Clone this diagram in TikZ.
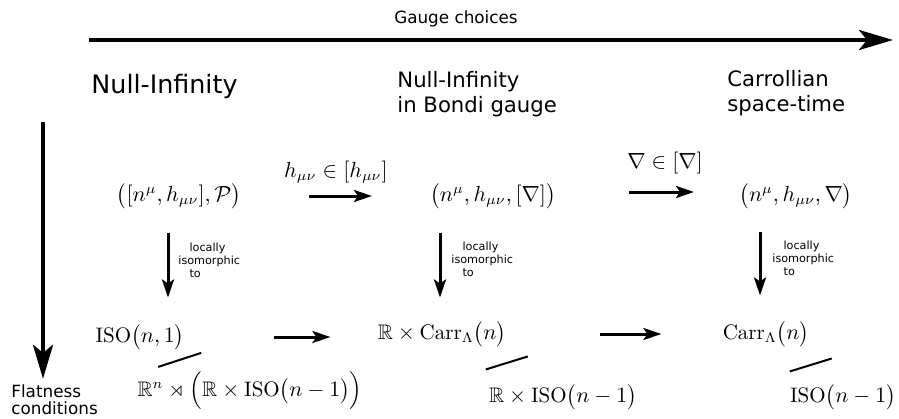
\documentclass[tikz,border=0pt]{standalone}
\usepackage{amsmath,amssymb}
\usepackage{fontspec}
\setsansfont{DejaVu Sans}
\usepackage{tikz}
\usetikzlibrary{arrows.meta,positioning}

\begin{document}
\begin{tikzpicture}[x=0.5pt,y=-0.5pt]
  % Styles
  \tikzset{
    bighead/.style={inner sep=0pt, anchor=base west,
      font=\sffamily\fontsize{12.7}{15}\selectfont},
    heading/.style={inner sep=0pt, anchor=base west, align=left,
      font=\sffamily\fontsize{10.6}{12.5}\selectfont},
    axislabel/.style={inner sep=0pt, align=left,
      font=\sffamily\fontsize{8.4}{8.5}\selectfont},
    isolabel/.style={inner sep=0pt, anchor=west, align=left,
      font=\sffamily\fontsize{5.6}{6.5}\selectfont},
    obj/.style={inner sep=0pt, font=\fontsize{10.5}{12}\selectfont},
    bigarrow/.style={-{Stealth[length=17pt, width=10pt, inset=4pt]}, line width=2pt},
    maparrow/.style={-{Stealth[length=9pt, width=6pt, inset=2pt]}, line width=1.5pt},
    quot/.style={line width=1pt}
  }
  \useasboundingbox (0,0) rectangle (899,418);

  % Axes
  \node[axislabel, anchor=base] (gauge) at (456,23) {Gauge choices};
  \node[axislabel, anchor=base west] (flat) at (11,414) {Flatness\\conditions};
  \coordinate (gaugestart) at (89,40);
  \coordinate (gaugeend) at (893,40);
  \coordinate (flatstart) at (43,122);
  \draw[bigarrow] (gaugestart) -- (gaugeend);
  \draw[bigarrow, shorten >=2.5pt] (flatstart) -- (flatstart |- flat.north);

  % Column headings
  \node[bighead] (nullinf) at (91,93) {Null-Infinity};
  \node[heading] (bondihead) at (397,112) {Null-Infinity\\in Bondi gauge};
  \node[heading] (carrhead) at (727,111) {Carrollian\\space-time};

  % Geometric structures
  \node[obj] (bundle) at (179,196) {$\big([n^\mu,h_{\mu\nu}],\mathcal{P}\big)$};
  \node[obj] (bondi) at (493,196) {$\big(n^\mu,h_{\mu\nu},[\nabla]\big)$};
  \node[obj] (carroll) at (796,196) {$\big(n^\mu,h_{\mu\nu},\nabla\big)$};
  \node[obj] (hfix) at (336,172) {$h_{\mu\nu}\in[h_{\mu\nu}]$};
  \node[obj] (nablafix) at (665,163) {$\nabla\in[\nabla]$};

  % Symmetry groups
  \node[obj] (poinc) at (140,337) {$\mathrm{ISO}\big(n,1\big)$};
  \node[obj] (bondigrp) at (442,334) {$\mathbb{R}\times\mathrm{Carr}_\Lambda\big(n\big)$};
  \node[obj] (carrgrp) at (766,334) {$\mathrm{Carr}_\Lambda\big(n\big)$};
  \node[obj] (poincquot) at (250,391) {$\mathbb{R}^n\rtimes\Big(\mathbb{R}\times\mathrm{ISO}\big(n-1\big)\Big)$};
  \node[obj] (bondiquot) at (563,397) {$\mathbb{R}\times\mathrm{ISO}\big(n-1\big)$};
  \node[obj] (carrquot) at (843,397) {$\mathrm{ISO}\big(n-1\big)$};

  % Locally isomorphic labels
  \node[isolabel] (iso1) at (178,260) {\hspace*{1em}locally\\isomorphic\\\hspace*{1em}to};
  \node[isolabel] (iso2) at (451,259) {\hspace*{1em}locally\\isomorphic\\\hspace*{1em}to};
  \node[isolabel] (iso3) at (772,258) {\hspace*{1em}locally\\isomorphic\\\hspace*{1em}to};

  % Arrows - gauge fixing
  \draw[maparrow, shorten <=34pt, shorten >=29pt] (bundle.east) -- (bondi.west);
  \draw[maparrow, shorten <=36.5pt, shorten >=22.5pt] ([yshift=2pt]bondi.east) -- ([yshift=2pt]carroll.west);
  \draw[maparrow, shorten <=44.5pt, shorten >=23.5pt] (poinc.east) -- (poinc.east -| bondigrp.west);
  \draw[maparrow, shorten <=46.5pt, shorten >=30.5pt] (bondigrp.east) -- (carrgrp.west);

  % Arrows - local isomorphism
  \draw[maparrow, shorten <=11.5pt, shorten >=13pt] ([xshift=-5.5pt]bundle.south) -- ([xshift=-5.5pt]bundle.south |- poinc.north);
  \draw[maparrow, shorten <=11.5pt, shorten >=11.5pt] ([xshift=-26.5pt]bondi.south) -- ([xshift=-26.5pt]bondi.south |- bondigrp.north);
  \draw[maparrow, shorten <=11pt, shorten >=12.5pt] ([xshift=-18pt]carroll.south) -- ([xshift=-18pt]carroll.south |- carrgrp.north);

  % Quotients
  \draw[quot] ([xshift=10.5pt,yshift=2pt]poincquot.north west) -- ++(21.5pt,7pt);
  \draw[quot] ([xshift=-1.5pt,yshift=7pt]bondiquot.north west) -- ++(21pt,6.5pt);
  \draw[quot] ([yshift=6pt]carrquot.north west) -- ++(21pt,6.5pt);
\end{tikzpicture}
\end{document}
